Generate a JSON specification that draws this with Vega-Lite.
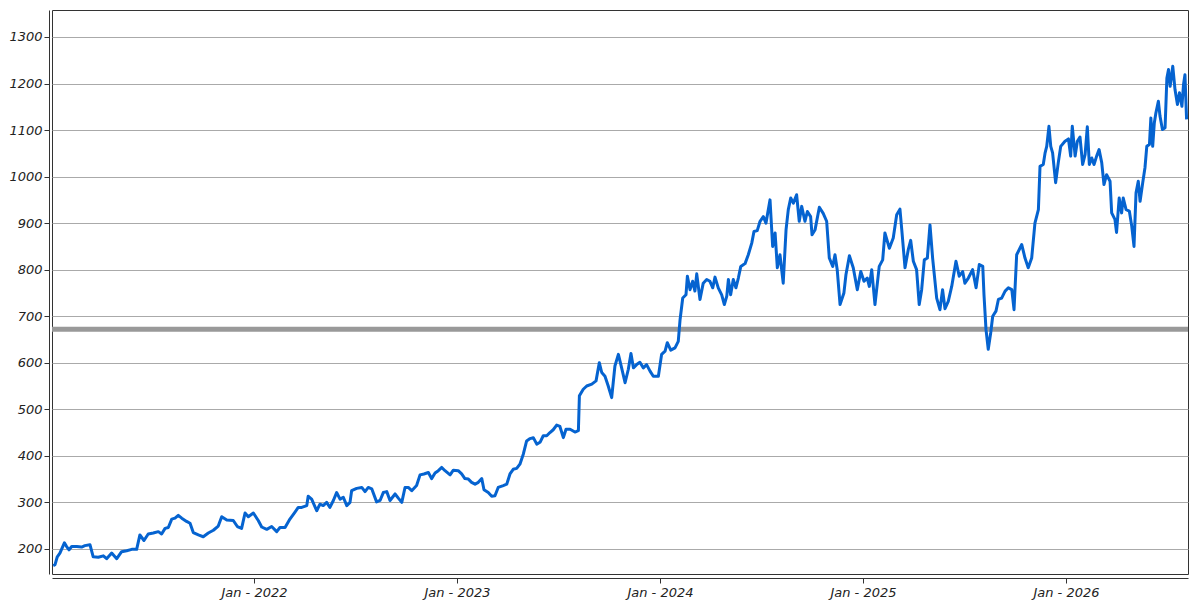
{
  "$schema": "https://vega.github.io/schema/vega-lite/v6.json",
  "width": 1136,
  "height": 564,
  "autosize": {"type": "none"},
  "padding": {"left": 52, "top": 10, "right": 12, "bottom": 26},
  "background": "white",
  "config": {
    "view": {"stroke": "#333333", "strokeWidth": 1},
    "axis": {
      "labelFont": "DejaVu Sans",
      "labelFontStyle": "italic",
      "labelFontSize": 13,
      "labelColor": "#222222",
      "domainColor": "#333333",
      "tickColor": "#333333",
      "tickSize": 5,
      "title": null
    }
  },
  "datasets": {
    "price": [
      {"t":2021.011,"v":164},{"t":2021.020,"v":166},{"t":2021.031,"v":183},{"t":2021.044,"v":191},{"t":2021.066,"v":213},
      {"t":2021.077,"v":205},{"t":2021.089,"v":198},{"t":2021.102,"v":205},{"t":2021.127,"v":205},{"t":2021.151,"v":204},
      {"t":2021.167,"v":207},{"t":2021.192,"v":209},{"t":2021.208,"v":183},{"t":2021.233,"v":182},{"t":2021.258,"v":185},
      {"t":2021.274,"v":179},{"t":2021.299,"v":191},{"t":2021.324,"v":179},{"t":2021.348,"v":194},{"t":2021.373,"v":196},
      {"t":2021.398,"v":199},{"t":2021.422,"v":199},{"t":2021.438,"v":230},{"t":2021.458,"v":218},{"t":2021.479,"v":232},
      {"t":2021.504,"v":234},{"t":2021.529,"v":237},{"t":2021.545,"v":232},{"t":2021.562,"v":244},{"t":2021.578,"v":246},
      {"t":2021.595,"v":264},{"t":2021.611,"v":266},{"t":2021.627,"v":272},{"t":2021.644,"v":266},{"t":2021.668,"v":259},
      {"t":2021.685,"v":255},{"t":2021.701,"v":235},{"t":2021.726,"v":230},{"t":2021.750,"v":226},{"t":2021.775,"v":234},
      {"t":2021.800,"v":240},{"t":2021.824,"v":249},{"t":2021.841,"v":269},{"t":2021.866,"v":262},{"t":2021.898,"v":261},
      {"t":2021.918,"v":248},{"t":2021.939,"v":244},{"t":2021.956,"v":277},{"t":2021.972,"v":269},{"t":2021.997,"v":277},
      {"t":2022.021,"v":261},{"t":2022.038,"v":247},{"t":2022.063,"v":242},{"t":2022.087,"v":248},{"t":2022.112,"v":237},
      {"t":2022.128,"v":246},{"t":2022.153,"v":246},{"t":2022.177,"v":264},{"t":2022.202,"v":279},{"t":2022.218,"v":289},
      {"t":2022.235,"v":289},{"t":2022.260,"v":293},{"t":2022.267,"v":313},{"t":2022.284,"v":307},{"t":2022.309,"v":282},
      {"t":2022.325,"v":296},{"t":2022.341,"v":293},{"t":2022.358,"v":300},{"t":2022.374,"v":289},{"t":2022.391,"v":304},
      {"t":2022.407,"v":321},{"t":2022.424,"v":307},{"t":2022.440,"v":311},{"t":2022.457,"v":293},{"t":2022.473,"v":300},
      {"t":2022.481,"v":325},{"t":2022.506,"v":330},{"t":2022.531,"v":332},{"t":2022.547,"v":323},{"t":2022.563,"v":332},
      {"t":2022.580,"v":329},{"t":2022.604,"v":301},{"t":2022.621,"v":304},{"t":2022.637,"v":321},{"t":2022.654,"v":323},
      {"t":2022.670,"v":304},{"t":2022.695,"v":318},{"t":2022.711,"v":309},{"t":2022.728,"v":300},{"t":2022.744,"v":332},
      {"t":2022.760,"v":332},{"t":2022.777,"v":325},{"t":2022.801,"v":336},{"t":2022.818,"v":359},{"t":2022.837,"v":361},
      {"t":2022.859,"v":364},{"t":2022.875,"v":351},{"t":2022.892,"v":363},{"t":2022.908,"v":368},{"t":2022.925,"v":375},
      {"t":2022.941,"v":368},{"t":2022.966,"v":359},{"t":2022.982,"v":369},{"t":2023.006,"v":368},{"t":2023.023,"v":361},
      {"t":2023.039,"v":351},{"t":2023.056,"v":350},{"t":2023.072,"v":343},{"t":2023.089,"v":339},{"t":2023.105,"v":343},
      {"t":2023.122,"v":351},{"t":2023.133,"v":327},{"t":2023.154,"v":321},{"t":2023.171,"v":313},{"t":2023.187,"v":314},
      {"t":2023.203,"v":332},{"t":2023.228,"v":336},{"t":2023.245,"v":339},{"t":2023.261,"v":361},{"t":2023.277,"v":371},
      {"t":2023.294,"v":373},{"t":2023.310,"v":382},{"t":2023.327,"v":404},{"t":2023.343,"v":432},{"t":2023.360,"v":437},
      {"t":2023.376,"v":439},{"t":2023.393,"v":425},{"t":2023.409,"v":429},{"t":2023.425,"v":443},{"t":2023.442,"v":443},
      {"t":2023.458,"v":450},{"t":2023.474,"v":456},{"t":2023.491,"v":466},{"t":2023.507,"v":463},{"t":2023.524,"v":439},
      {"t":2023.537,"v":457},{"t":2023.557,"v":457},{"t":2023.581,"v":451},{"t":2023.598,"v":454},{"t":2023.603,"v":529},
      {"t":2023.622,"v":543},{"t":2023.639,"v":550},{"t":2023.664,"v":554},{"t":2023.685,"v":561},{"t":2023.701,"v":600},
      {"t":2023.713,"v":579},{"t":2023.729,"v":571},{"t":2023.745,"v":550},{"t":2023.762,"v":525},{"t":2023.778,"v":593},
      {"t":2023.795,"v":618},{"t":2023.811,"v":589},{"t":2023.828,"v":557},{"t":2023.844,"v":586},{"t":2023.857,"v":620},
      {"t":2023.869,"v":589},{"t":2023.885,"v":596},{"t":2023.901,"v":601},{"t":2023.918,"v":589},{"t":2023.934,"v":596},
      {"t":2023.951,"v":582},{"t":2023.967,"v":571},{"t":2023.992,"v":571},{"t":2024.008,"v":618},{"t":2024.025,"v":625},
      {"t":2024.036,"v":643},{"t":2024.053,"v":627},{"t":2024.074,"v":632},{"t":2024.090,"v":646},{"t":2024.099,"v":693},
      {"t":2024.112,"v":739},{"t":2024.128,"v":746},{"t":2024.135,"v":786},{"t":2024.148,"v":757},{"t":2024.161,"v":775},
      {"t":2024.172,"v":754},{"t":2024.181,"v":791},{"t":2024.197,"v":736},{"t":2024.213,"v":771},{"t":2024.230,"v":779},
      {"t":2024.246,"v":775},{"t":2024.260,"v":761},{"t":2024.271,"v":784},{"t":2024.287,"v":761},{"t":2024.304,"v":746},
      {"t":2024.317,"v":725},{"t":2024.329,"v":743},{"t":2024.337,"v":779},{"t":2024.348,"v":746},{"t":2024.361,"v":779},
      {"t":2024.374,"v":761},{"t":2024.386,"v":782},{"t":2024.398,"v":807},{"t":2024.419,"v":813},{"t":2024.435,"v":832},
      {"t":2024.452,"v":857},{"t":2024.463,"v":882},{"t":2024.479,"v":884},{"t":2024.493,"v":904},{"t":2024.509,"v":914},
      {"t":2024.522,"v":900},{"t":2024.542,"v":950},{"t":2024.555,"v":850},{"t":2024.567,"v":879},{"t":2024.578,"v":804},
      {"t":2024.591,"v":832},{"t":2024.607,"v":771},{"t":2024.621,"v":886},{"t":2024.632,"v":929},{"t":2024.644,"v":954},
      {"t":2024.657,"v":943},{"t":2024.673,"v":961},{"t":2024.686,"v":904},{"t":2024.698,"v":936},{"t":2024.714,"v":904},
      {"t":2024.726,"v":925},{"t":2024.742,"v":914},{"t":2024.749,"v":875},{"t":2024.764,"v":886},{"t":2024.785,"v":934},
      {"t":2024.804,"v":921},{"t":2024.821,"v":904},{"t":2024.834,"v":825},{"t":2024.851,"v":807},{"t":2024.862,"v":832},
      {"t":2024.873,"v":800},{"t":2024.887,"v":725},{"t":2024.906,"v":750},{"t":2024.916,"v":789},{"t":2024.933,"v":830},
      {"t":2024.952,"v":804},{"t":2024.972,"v":757},{"t":2024.989,"v":796},{"t":2025.005,"v":775},{"t":2025.021,"v":782},
      {"t":2025.031,"v":764},{"t":2025.043,"v":800},{"t":2025.059,"v":725},{"t":2025.080,"v":807},{"t":2025.097,"v":821},
      {"t":2025.108,"v":879},{"t":2025.130,"v":846},{"t":2025.149,"v":868},{"t":2025.166,"v":918},{"t":2025.182,"v":930},
      {"t":2025.191,"v":886},{"t":2025.207,"v":804},{"t":2025.223,"v":843},{"t":2025.235,"v":863},{"t":2025.248,"v":818},
      {"t":2025.264,"v":800},{"t":2025.277,"v":725},{"t":2025.289,"v":757},{"t":2025.302,"v":821},{"t":2025.317,"v":825},
      {"t":2025.330,"v":896},{"t":2025.343,"v":825},{"t":2025.363,"v":739},{"t":2025.379,"v":714},{"t":2025.392,"v":757},
      {"t":2025.404,"v":716},{"t":2025.420,"v":732},{"t":2025.437,"v":764},{"t":2025.458,"v":818},{"t":2025.474,"v":786},
      {"t":2025.491,"v":796},{"t":2025.502,"v":771},{"t":2025.519,"v":782},{"t":2025.540,"v":800},{"t":2025.557,"v":761},
      {"t":2025.573,"v":811},{"t":2025.590,"v":807},{"t":2025.596,"v":746},{"t":2025.606,"v":671},{"t":2025.617,"v":629},
      {"t":2025.629,"v":664},{"t":2025.639,"v":700},{"t":2025.655,"v":711},{"t":2025.667,"v":736},{"t":2025.683,"v":739},
      {"t":2025.700,"v":754},{"t":2025.716,"v":761},{"t":2025.733,"v":757},{"t":2025.744,"v":714},{"t":2025.757,"v":832},
      {"t":2025.782,"v":854},{"t":2025.798,"v":825},{"t":2025.814,"v":804},{"t":2025.831,"v":825},{"t":2025.847,"v":900},
      {"t":2025.864,"v":929},{"t":2025.872,"v":1022},{"t":2025.888,"v":1026},{"t":2025.897,"v":1051},{"t":2025.905,"v":1065},
      {"t":2025.916,"v":1108},{"t":2025.925,"v":1065},{"t":2025.934,"v":1051},{"t":2025.949,"v":987},{"t":2025.962,"v":1030},
      {"t":2025.974,"v":1065},{"t":2025.995,"v":1076},{"t":2026.012,"v":1081},{"t":2026.023,"v":1044},{"t":2026.031,"v":1108},
      {"t":2026.045,"v":1044},{"t":2026.056,"v":1076},{"t":2026.069,"v":1085},{"t":2026.082,"v":1026},{"t":2026.094,"v":1047},
      {"t":2026.105,"v":1107},{"t":2026.115,"v":1026},{"t":2026.127,"v":1040},{"t":2026.138,"v":1026},{"t":2026.151,"v":1044},
      {"t":2026.163,"v":1058},{"t":2026.176,"v":1030},{"t":2026.187,"v":983},{"t":2026.200,"v":1004},{"t":2026.217,"v":990},
      {"t":2026.225,"v":922},{"t":2026.241,"v":908},{"t":2026.249,"v":880},{"t":2026.262,"v":954},{"t":2026.274,"v":922},
      {"t":2026.282,"v":954},{"t":2026.296,"v":929},{"t":2026.312,"v":926},{"t":2026.324,"v":893},{"t":2026.335,"v":850},
      {"t":2026.345,"v":965},{"t":2026.356,"v":990},{"t":2026.365,"v":947},{"t":2026.378,"v":987},{"t":2026.389,"v":1019},
      {"t":2026.398,"v":1065},{"t":2026.411,"v":1069},{"t":2026.418,"v":1126},{"t":2026.427,"v":1065},{"t":2026.435,"v":1115},
      {"t":2026.443,"v":1137},{"t":2026.455,"v":1162},{"t":2026.463,"v":1130},{"t":2026.475,"v":1101},{"t":2026.488,"v":1105},
      {"t":2026.497,"v":1212},{"t":2026.505,"v":1230},{"t":2026.513,"v":1194},{"t":2026.526,"v":1237},{"t":2026.537,"v":1187},
      {"t":2026.549,"v":1155},{"t":2026.559,"v":1180},{"t":2026.571,"v":1151},{"t":2026.579,"v":1198},{"t":2026.586,"v":1219},
      {"t":2026.594,"v":1123}
    ],
    "level": [{"v": 672}]
  },
  "layer": [
    {
      "data": {"name": "level"},
      "mark": {"type": "rule", "color": "#999999", "strokeWidth": 5},
      "encoding": {
        "y": {"field": "v", "type": "quantitative", "scale": {"domain": [146, 1358], "nice": false, "zero": false}}
      }
    },
    {
      "data": {"name": "price"},
      "mark": {"type": "line", "color": "#0563d0", "strokeWidth": 3, "clip": true, "strokeJoin": "round"},
      "encoding": {
        "x": {
          "field": "t",
          "type": "quantitative",
          "scale": {"domain": [2021.005, 2026.601], "nice": false, "zero": false},
          "axis": {
            "values": [2022, 2023, 2024, 2025, 2026],
            "labelExpr": "'Jan - ' + datum.value",
            "grid": false,
            "offset": 4,
            "labelPadding": 3
          }
        },
        "y": {
          "field": "v",
          "type": "quantitative",
          "scale": {"domain": [146, 1358], "nice": false, "zero": false},
          "axis": {
            "values": [200, 300, 400, 500, 600, 700, 800, 900, 1000, 1100, 1200, 1300],
            "grid": true,
            "gridColor": "#aaaaaa",
            "gridOpacity": 1,
            "offset": 3,
            "labelPadding": 2,
            "format": "d"
          }
        }
      }
    }
  ]
}
